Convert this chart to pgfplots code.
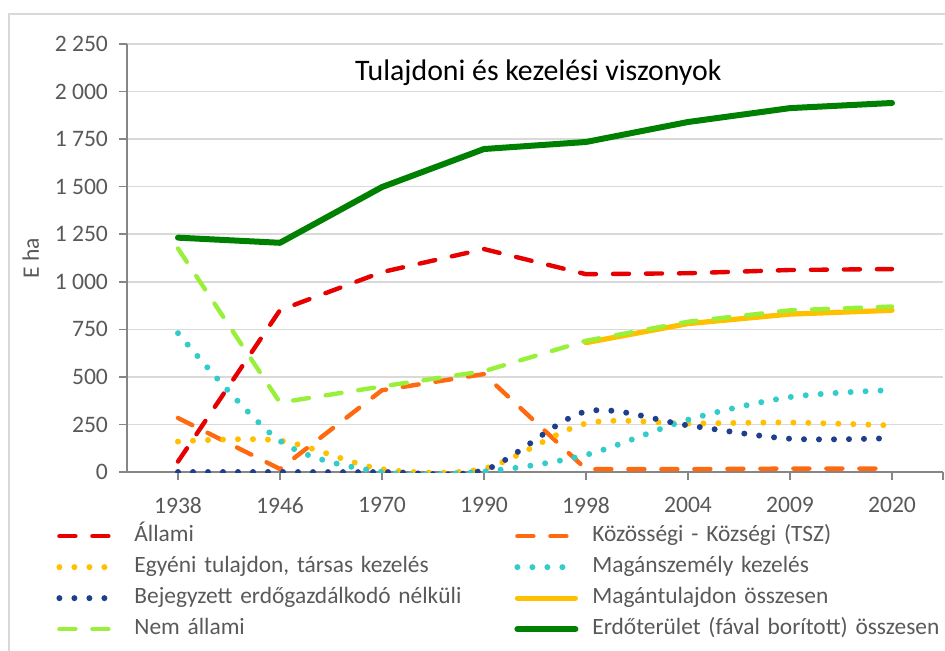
\documentclass[border=0pt]{standalone}
\usepackage{pgfplots}
\pgfplotsset{compat=1.18}
\usepackage{fontspec}
\setmainfont{Carlito}
\definecolor{cAllami}{HTML}{E60000}
\definecolor{cKoz}{HTML}{FF6A10}
\definecolor{cEgy}{HTML}{FFC000}
\definecolor{cMagsz}{HTML}{33CCCC}
\definecolor{cBej}{HTML}{1F3E8C}
\definecolor{cMagt}{HTML}{FFC000}
\definecolor{cNem}{HTML}{99F03A}
\definecolor{cErdo}{HTML}{008000}
\definecolor{txt}{HTML}{595959}
\definecolor{grd}{HTML}{D9D9D9}
\definecolor{axl}{HTML}{868686}

\begin{document}
\begin{tikzpicture}
\path[use as bounding box] (0,0) rectangle (472.5pt,-325pt);
\draw[grd,line width=0.8pt] (4.5pt,-330pt) -- (4.5pt,-7pt) -- (480pt,-7pt);
\begin{axis}[
    at={(63.5pt,-236pt)},anchor=south west,
    scale only axis,width=408pt,height=214pt,
    xmin=-0.5,xmax=7.5,ymin=0,ymax=2250,
    xtick={0,...,7},
    xticklabels={1938,1946,1970,1990,1998,2004,2009,2020},
    extra x ticks={7.5},extra x tick labels={},
    ytick={0,250,...,2250},
    yticklabels={0,250,500,750,1 000,1 250,1 500,1 750,2 000,2 250},
    ymajorgrids,grid style={grd,line width=0.8pt},
    extra x tick style={grid=none},
    axis x line*=bottom,axis y line*=left,
    axis line style={axl,line width=0.8pt,-},
    tick style={axl,line width=0.8pt},
    tick align=outside,
    major tick length=4pt,
    tick label style={font=\fontsize{11.8}{13}\selectfont,text=txt},
    xticklabel style={yshift=-5pt},
    yticklabel style={xshift=-2pt},
    ylabel={E ha},
    ylabel style={font=\fontsize{11.8}{13}\selectfont,text=txt,yshift=1pt},
    legend columns=2,
    legend cell align=left,
    legend style={at={(-0.087,-0.115)},anchor=north west,draw=none,fill=none,
        inner sep=0pt,font=\fontsize{11.7}{13}\selectfont,text=txt,
        row sep=1pt,
        nodes={text width=188pt,align=left,text height=8pt,text depth=2.5pt,inner ysep=2pt},
        /tikz/every odd column/.append style={column sep=5pt}},
    legend image code/.code={\draw[#1] (0pt,0pt) -- (29pt,0pt);},
]
\addplot[cAllami,line width=2.2pt,line cap=round,line join=round,dash pattern=on 8pt off 8.5pt] coordinates {
    (0,55) (1,851) (2,1051) (3,1172) (4,1040) (5,1045) (6,1062) (7,1067)};
\addlegendentry{Állami}
\addplot[cKoz,line width=2.2pt,line cap=round,line join=round,dash pattern=on 8pt off 8.5pt] coordinates {
    (0,284) (1,16) (2,430) (3,515) (4,15) (5,15) (6,18) (7,18)};
\addlegendentry{Közösségi - Községi (TSZ)}
\addplot[cEgy,line width=3pt,line cap=round,smooth,tension=0.5,dash pattern=on 0pt off 7.5pt] coordinates {
    (0,160) (1,165) (2,15) (3,18) (4,255) (5,255) (6,260) (7,245)};
\addlegendentry{Egyéni tulajdon, társas kezelés}
\addplot[cMagsz,line width=3pt,line cap=round,smooth,tension=0.5,dash pattern=on 0pt off 7.5pt] coordinates {
    (0,730) (1,163) (2,0) (3,3) (4,90) (5,275) (6,394) (7,431)};
\addlegendentry{Magánszemély kezelés}
\addplot[cBej,line width=3pt,line cap=round,smooth,tension=0.5,dash pattern=on 0pt off 7.5pt] coordinates {
    (0,0) (1,0) (2,0) (3,10) (4,318) (5,245) (6,175) (7,178)};
\addlegendentry{Bejegyzett erdőgazdálkodó nélküli}
\addplot[cMagt,line width=2.6pt,line cap=round,line join=round] coordinates {
    (4,680) (5,780) (6,830) (7,850)};
\addlegendentry{Magántulajdon összesen}
\addplot[cNem,line width=2.2pt,line cap=round,line join=round,dash pattern=on 8pt off 8.5pt] coordinates {
    (0,1175) (1,365) (2,450) (3,530) (4,690) (5,790) (6,850) (7,870)};
\addlegendentry{Nem állami}
\addplot[cErdo,line width=3pt,line cap=round,line join=round] coordinates {
    (0,1232) (1,1205) (2,1498) (3,1698) (4,1735) (5,1840) (6,1913) (7,1940)};
\addlegendentry{Erdőterület (fával borított) összesen}
\node[font=\fontsize{14.9}{16}\selectfont,text=black] at (axis description cs:0.504,0.934) {Tulajdoni és kezelési viszonyok};
\end{axis}
\end{tikzpicture}
\end{document}
